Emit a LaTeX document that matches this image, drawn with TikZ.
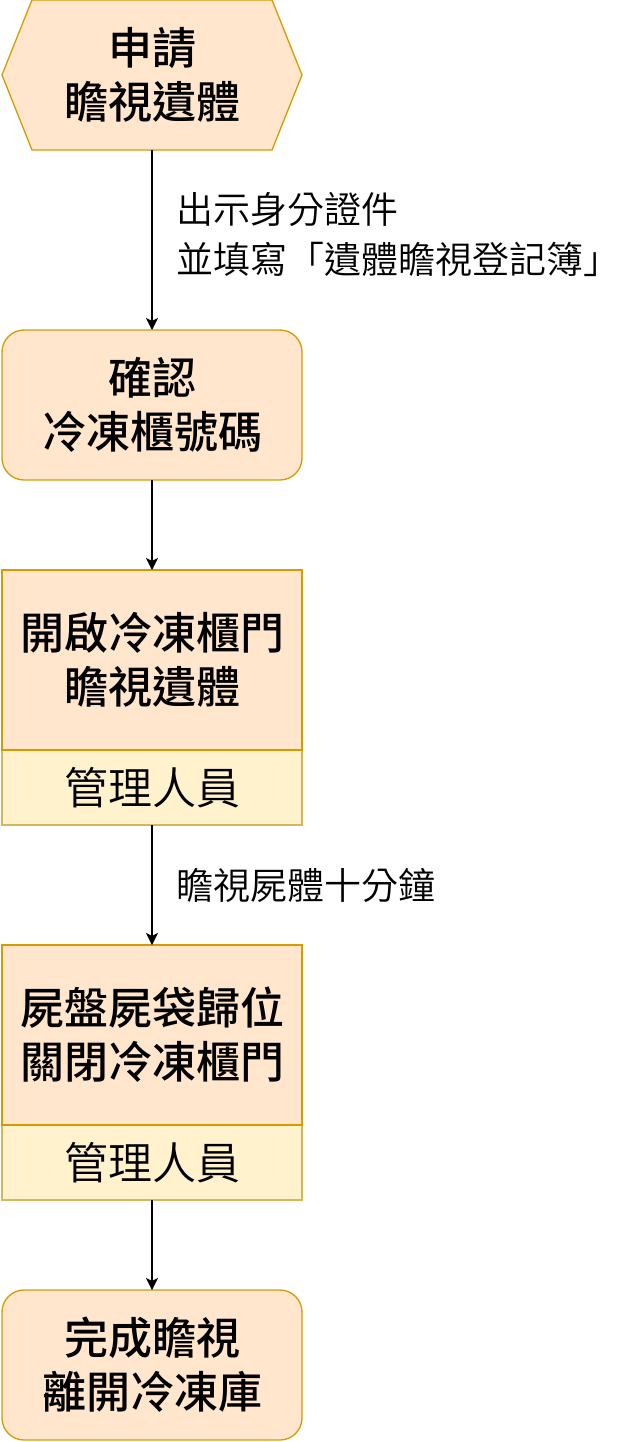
\documentclass[tikz,border=0pt]{standalone}
\usepackage{fontspec}
\setmainfont{Noto Sans CJK TC}[BoldFont={Noto Sans CJK TC Medium}]
\newfontfamily\thinfont{Noto Sans CJK TC DemiLight}
\usetikzlibrary{positioning,arrows.meta,backgrounds}
\definecolor{peach}{HTML}{FFE6CC}
\definecolor{peachline}{HTML}{D79B00}
\definecolor{cream}{HTML}{FFF2CC}
\definecolor{creamline}{HTML}{D6B656}
\begin{document}
\begin{tikzpicture}[x=1pt, y=-1pt,
      base/.style={rectangle, minimum width=300pt, minimum height=150pt, inner sep=0pt, outer sep=0pt, align=center, font=\fontsize{44}{54}\selectfont\bfseries, anchor=north west},
      roundbox/.style={base, draw=peachline, fill=peach, line width=1.3pt, rounded corners=22pt},
      stepbox/.style={base, minimum height=180pt, draw=peachline, fill=peach, line width=1.3pt},
      rolebox/.style={base, minimum height=75pt, draw=creamline, fill=cream, line width=1.3pt, font=\fontsize{44}{54}\selectfont\thinfont},
      lbl/.style={inner sep=0pt, align=left, font=\fontsize{37}{50}\selectfont\thinfont},
      link/.style={-{Stealth[length=12pt,width=12pt,inset=3pt]}, line width=1.2pt}]
      \useasboundingbox (0,0) rectangle (632,1442);
      \node[base] (apply) at (2,0) {申請\\瞻視遺體};
      \begin{scope}[on background layer]
        \filldraw[draw=peachline, fill=peach, line width=1.3pt] ([xshift=30pt]apply.north west) -- ([xshift=-30pt]apply.north east) -- (apply.east) -- ([xshift=-30pt]apply.south east) -- ([xshift=30pt]apply.south west) -- (apply.west) -- cycle;
      \end{scope}
      \node[roundbox] (check) at (2,330) {確認\\冷凍櫃號碼};
      \node[rolebox] (openrole) at (2,750) {管理人員};
      \node[stepbox, above=0pt of openrole] (open) {開啟冷凍櫃門\\瞻視遺體};
      \node[rolebox] (returnrole) at (2,1125) {管理人員};
      \node[stepbox, above=0pt of returnrole] (return) {屍盤屍袋歸位\\關閉冷凍櫃門};
      \node[roundbox] (leave) at (2,1290) {完成瞻視\\離開冷凍庫};
      \draw[link] (apply) -- node[lbl, right=24pt, yshift=6pt] {出示身分證件\\並填寫「遺體瞻視登記簿」} (check);
      \draw[link] (check) -- (open);
      \draw[link] (openrole) -- node[lbl, right=24pt] {瞻視屍體十分鐘} (return);
      \draw[link] (returnrole) -- (leave);
    \end{tikzpicture}
\end{document}
